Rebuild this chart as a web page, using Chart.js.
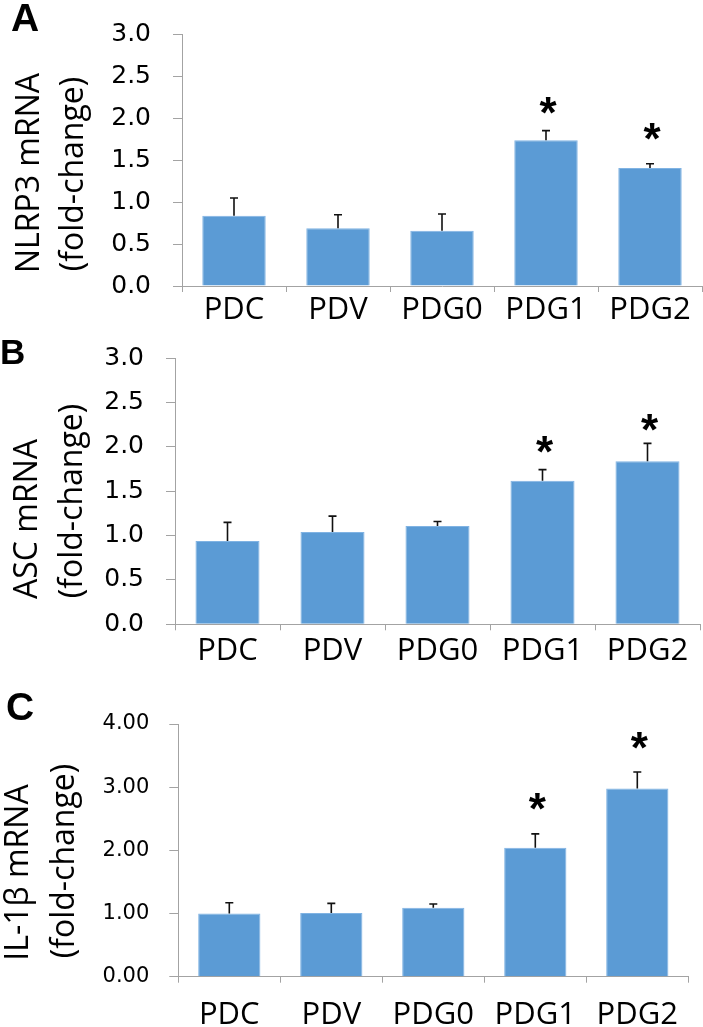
<!DOCTYPE html>
<html><head><meta charset="utf-8">
<script src="https://cdn.jsdelivr.net/npm/chart.js@4.4.1/dist/chart.umd.min.js"></script>
<style>
html,body{margin:0;padding:0;background:#fff;}
body{width:703px;height:1027px;position:relative;overflow:hidden;}
canvas.panel{position:absolute;left:0;}
.letter{position:absolute;font-family:"Liberation Sans",Arial,sans-serif;font-weight:bold;line-height:1;color:#000;z-index:2;}
</style></head><body>
<canvas id="cA" class="panel" width="703" height="330" style="top:0px"></canvas>
<canvas id="cB" class="panel" width="703" height="335" style="top:330px"></canvas>
<canvas id="cC" class="panel" width="703" height="362" style="top:665px"></canvas>
<div class="letter" style="left:11px;top:-2px;font-size:39px">A</div>
<div class="letter" style="left:0px;top:334px;font-size:35px">B</div>
<div class="letter" style="left:6px;top:687px;font-size:39px">C</div>
<script>
// ---- data ----
const categories = ['PDC', 'PDV', 'PDG0', 'PDG1', 'PDG2'];

const nlrp3Values = [0.84, 0.69, 0.66, 1.74, 1.41];
const nlrp3Errors = [0.21, 0.16, 0.20, 0.115, 0.05];
const nlrp3Stars  = [null, null, null, 2.15, 1.84];
const nlrp3Title  = ['NLRP3 mRNA', '(fold-change)'];

const ascValues = [0.94, 1.04, 1.11, 1.62, 1.84];
const ascErrors = [0.21, 0.18, 0.05, 0.125, 0.20];
const ascStars  = [null, null, null, 2.03, 2.28];
const ascTitle  = ['ASC mRNA', '(fold-change)'];

const il1bValues = [1.00, 1.01, 1.09, 2.04, 2.98];
const il1bErrors = [0.17, 0.15, 0.06, 0.22, 0.26];
const il1bStars  = [null, null, null, 2.77, 3.74];
const il1bTitle  = ['IL-1\u03B2 mRNA', '(fold-change)'];

const tickValuesAB = [0, 0.5, 1.0, 1.5, 2.0, 2.5, 3.0];
const tickValuesC  = [0, 1, 2, 3, 4];

// ---- styles ----
const AXIS_GREY = '#A3A3A3';
const BAR_FILL = '#5B9BD5';
const BAR_EDGE = '#80B3E3';

const yTitlePlugin = {
  id: 'yTitleLines',
  afterDraw(chart, args, opts) {
    const ctx = chart.ctx;
    ctx.save();
    ctx.fillStyle = '#000';
    ctx.font = '32px "Open Sans"';
    ctx.textAlign = 'center';
    ctx.textBaseline = 'middle';
    opts.lines.forEach(l => {
      ctx.save();
      ctx.translate(l.x, l.y);
      ctx.rotate(-Math.PI / 2);
      ctx.fillText(l.text, 0, 0);
      ctx.restore();
    });
    ctx.restore();
  }
};

const errorBarPlugin = {
  id: 'errorBars',
  afterDatasetsDraw(chart, args, opts) {
    const meta = chart.getDatasetMeta(0);
    const y = chart.scales.y;
    const ctx = chart.ctx;
    const vals = chart.data.datasets[0].data;
    ctx.save();
    ctx.strokeStyle = '#111';
    ctx.lineWidth = 1.6;
    meta.data.forEach((bar, i) => {
      const top = y.getPixelForValue(vals[i] + opts.errors[i]);
      const base = y.getPixelForValue(vals[i]);
      ctx.beginPath();
      ctx.moveTo(bar.x, base);
      ctx.lineTo(bar.x, top);
      ctx.moveTo(bar.x - 4, top);
      ctx.lineTo(bar.x + 4, top);
      ctx.stroke();
    });
    ctx.fillStyle = '#000';
    ctx.font = 'bold 44px "Liberation Sans"';
    ctx.textAlign = 'center';
    ctx.textBaseline = 'alphabetic';
    const m = ctx.measureText('*');
    opts.stars.forEach((s, i) => {
      if (s == null) return;
      const cy = y.getPixelForValue(s);
      const baseline = cy + (m.actualBoundingBoxAscent - m.actualBoundingBoxDescent) / 2;
      ctx.fillText('*', meta.data[i].x + 2, baseline);
    });
    ctx.restore();
  }
};

function makePanel(id, p) {
  return new Chart(document.getElementById(id), {
    type: 'bar',
    data: {
      labels: categories,
      datasets: [{
        data: p.values,
        backgroundColor: BAR_FILL,
        borderColor: BAR_EDGE,
        borderWidth: 1,
        barPercentage: 0.61,
        categoryPercentage: 1
      }]
    },
    options: {
      responsive: false,
      animation: false,
      devicePixelRatio: 1,
      layout: { padding: { top: p.padTop, right: p.padRight, left: 0, bottom: 0 } },
      plugins: {
        legend: { display: false },
        tooltip: { enabled: false },
        yTitleLines: { lines: p.titleLines },
        errorBars: { errors: p.errors, stars: p.stars }
      },
      scales: {
        x: {
          offset: true,
          grid: { display: true, drawOnChartArea: false, drawTicks: true, tickLength: 6, color: AXIS_GREY, offset: true },
          border: { display: true, color: AXIS_GREY, width: 1 },
          ticks: { color: '#000', font: { family: 'Open Sans', size: 31 }, padding: p.xPad, maxRotation: 0, autoSkip: false },
          afterFit(s) { s.height = p.xHeight; s.paddingLeft = 0; s.paddingRight = 0; }
        },
        y: {
          min: 0,
          max: p.max,
          afterBuildTicks(s) { s.ticks = p.tickValues.map(v => ({ value: v })); },
          grid: { drawOnChartArea: false, drawTicks: true, tickLength: 9, color: AXIS_GREY },
          border: { display: true, color: AXIS_GREY, width: 1 },
          ticks: { color: '#000', font: { family: 'DejaVu Sans', size: p.tickSize }, padding: p.yPad,
                   callback: v => Number(v).toFixed(p.decimals) },
          afterFit(s) { s.width = p.yWidth; s.paddingTop = 0; s.paddingBottom = 0; }
        }
      }
    },
    plugins: [yTitlePlugin, errorBarPlugin]
  });
}

makePanel('cA', {
  values: nlrp3Values, errors: nlrp3Errors, stars: nlrp3Stars,
  max: 3, tickValues: tickValuesAB, decimals: 1, tickSize: 25,
  padTop: 34.7, padRight: 1, yWidth: 182, xHeight: 44, xPad: 0, yPad: 22,
  titleLines: [{ text: nlrp3Title[0], x: 29.5, y: 173 }, { text: nlrp3Title[1], x: 73.5, y: 174 }]
});
makePanel('cB', {
  values: ascValues, errors: ascErrors, stars: ascStars,
  max: 3, tickValues: tickValuesAB, decimals: 1, tickSize: 25,
  padTop: 28.3, padRight: 3, yWidth: 175, xHeight: 40.7, xPad: 2.4, yPad: 22,
  titleLines: [{ text: ascTitle[0], x: 28, y: 189 }, { text: ascTitle[1], x: 73.2, y: 171 }]
});
makePanel('cC', {
  values: il1bValues, errors: il1bErrors, stars: il1bStars,
  max: 4, tickValues: tickValuesC, decimals: 2, tickSize: 21,
  padTop: 59, padRight: 14.7, yWidth: 178.3, xHeight: 50.3, xPad: 13.7, yPad: 20,
  titleLines: [{ text: il1bTitle[0], x: 19, y: 207.5 }, { text: il1bTitle[1], x: 65.2, y: 196 }]
});
</script>
</body></html>
